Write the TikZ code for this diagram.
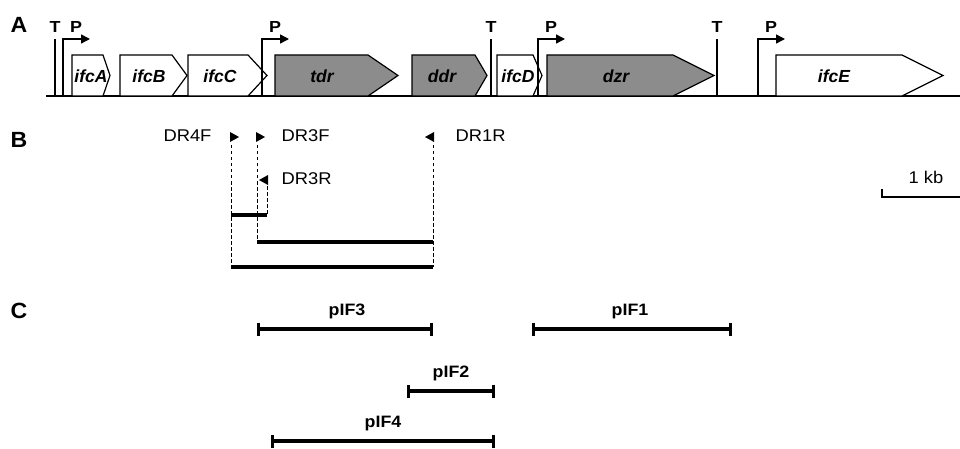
\documentclass[tikz,border=0pt]{standalone}
\usepackage{fontspec}
\setmainfont{Liberation Sans}
\newfontfamily\panelfont[FakeStretch=1.05]{Liberation Sans}
\newfontfamily\sitefont[FakeStretch=1.12]{Liberation Sans}
\newfontfamily\primerfont[FakeStretch=1.08]{Liberation Sans}
\newfontfamily\genefont{Liberation Sans}
\usetikzlibrary{arrows.meta}

\colorlet{genegray}{black!45}

\tikzset{
  panel/.style={anchor=base, font=\panelfont\fontsize{22}{22}\selectfont\bfseries},
  sitelab/.style={anchor=base, font=\sitefont\fontsize{16}{16}\selectfont\bfseries},
  genelab/.style={anchor=base, font=\genefont\fontsize{17.5}{17.5}\selectfont\bfseries\itshape},
  geneline/.style={draw=black, line width=1.2pt, line join=miter},
  siteline/.style={draw=black, line width=1.4pt},
  primerlab/.style={font=\primerfont\fontsize{17}{17}\selectfont},
  fraglab/.style={anchor=base, font=\primerfont\fontsize{16.5}{16.5}\selectfont\bfseries},
  dashline/.style={draw=black, line width=0.9pt, dash pattern=on 3.5pt off 2.5pt},
  ampbar/.style={draw=black, line width=3.2pt},
  fragbar/.style={draw=black, line width=3.2pt, {Bar[width=13pt,line width=3pt]}-{Bar[width=13pt,line width=3pt]}},
  marker/.style={fill=black, draw=none},
}

% gene arrow: left, start of head, tip, fill, name, label, label x
\newcommand\geneshape[7]{%
  \draw[geneline, fill=#4] (#1,55) -- (#2,55) -- (#3,75.5) -- (#2,96) -- (#1,96) -- cycle;
  \node[genelab] (#5) at (#7,83) {#6};}

% promoter: x position, name
\newcommand\promoter[2]{%
  \coordinate (#2b) at (#1,96);
  \coordinate (#2t) at (#1,39);
  \coordinate (#2e) at (#1+27,39);
  \draw[siteline, -{Triangle[length=9pt,width=9pt]}] (#2b) -- (#2t) -- (#2e);
  \node[sitelab] (#2l) at (#1+13,33) {P};}

% terminator: x position, name
\newcommand\terminator[2]{%
  \coordinate (#2b) at (#1,96);
  \coordinate (#2t) at (#1,39);
  \draw[siteline] (#2b) -- (#2t);
  \node[sitelab] (#2l) at (#1,33) {T};}

\begin{document}
\begin{tikzpicture}[x=1pt,y=-1pt]
\useasboundingbox (0,0) rectangle (960,449);

% panel letters
\node[panel] (labA) at (19,33) {A};
\node[panel] (labB) at (19,148) {B};
\node[panel] (labC) at (19,318) {C};

% ---- A: gene cluster ----
\coordinate (axisL) at (46,96);
\coordinate (axisR) at (960,96);
\draw[black, line width=2.2pt] (axisL) -- (axisR);

\geneshape{72}{103}{110}{white}{ifcA}{ifcA}{91}
\geneshape{120}{172}{187}{white}{ifcB}{ifcB}{149}
\geneshape{188}{248}{267}{white}{ifcC}{ifcC}{220}
\geneshape{275}{368}{398}{genegray}{tdr}{tdr}{322}
\geneshape{412}{475}{487}{genegray}{ddr}{ddr}{442}
\geneshape{497}{533}{542}{white}{ifcD}{ifcD}{518}
\geneshape{547}{673}{714}{genegray}{dzr}{dzr}{616}
\geneshape{776}{902}{943}{white}{ifcE}{ifcE}{834}

\terminator{55}{tA}
\promoter{63}{pA}
\promoter{262}{pB}
\terminator{491}{tB}
\promoter{538}{pC}
\terminator{717}{tC}
\promoter{758}{pD}

% ---- B: primers and amplicons ----
\node[primerlab, anchor=base east] (dr4f) at (215,142) {DR4F};
\node[primerlab, anchor=base west] (dr3f) at (278,142) {DR3F};
\node[primerlab, anchor=base west] (dr1r) at (452,142) {DR1R};
\node[primerlab, anchor=base west] (dr3r) at (278,185) {DR3R};

\fill[marker] (230,132) -- (239,137) -- (230,142) -- cycle;
\fill[marker] (256,132) -- (265,137) -- (256,142) -- cycle;
\fill[marker] (434,132) -- (425,137) -- (434,142) -- cycle;
\fill[marker] (268,175) -- (259,180) -- (268,185) -- cycle;

\coordinate (d4t) at (231,145);  \coordinate (d4b) at (231,267);
\coordinate (d3t) at (257,145);  \coordinate (d3b) at (257,242);
\coordinate (d1t) at (433,145);  \coordinate (d1b) at (433,267);
\coordinate (r3t) at (267,186);  \coordinate (r3b) at (267,215);
\draw[dashline] (d4t) -- (d4b);
\draw[dashline] (d3t) -- (d3b);
\draw[dashline] (d1t) -- (d1b);
\draw[dashline] (r3t) -- (r3b);

\coordinate (a1l) at (231,215); \coordinate (a1r) at (267,215);
\coordinate (a2l) at (257,242); \coordinate (a2r) at (433,242);
\coordinate (a3l) at (231,267); \coordinate (a3r) at (433,267);
\draw[ampbar] (a1l) -- (a1r);
\draw[ampbar] (a2l) -- (a2r);
\draw[ampbar] (a3l) -- (a3r);

% scale bar
\node[primerlab, anchor=base] (kb) at (926,183) {1 kb};
\coordinate (sbt) at (882,189);
\coordinate (sbl) at (882,197);
\coordinate (sbr) at (960,197);
\draw[black, line width=1.8pt] (sbt) -- (sbl) -- (sbr);

% ---- C: cloned fragments ----
\coordinate (f3l) at (257,329); \coordinate (f3r) at (433,329);
\coordinate (f1l) at (532,329); \coordinate (f1r) at (732,329);
\coordinate (f2l) at (407,391); \coordinate (f2r) at (495,391);
\coordinate (f4l) at (271,441); \coordinate (f4r) at (495,441);
\draw[fragbar] (f3l) -- (f3r);
\draw[fragbar] (f1l) -- (f1r);
\draw[fragbar] (f2l) -- (f2r);
\draw[fragbar] (f4l) -- (f4r);
\node[fraglab] (pif3) at (347,315) {pIF3};
\node[fraglab] (pif1) at (630,315) {pIF1};
\node[fraglab] (pif2) at (451,377) {pIF2};
\node[fraglab] (pif4) at (383,427) {pIF4};
\end{tikzpicture}
\end{document}
